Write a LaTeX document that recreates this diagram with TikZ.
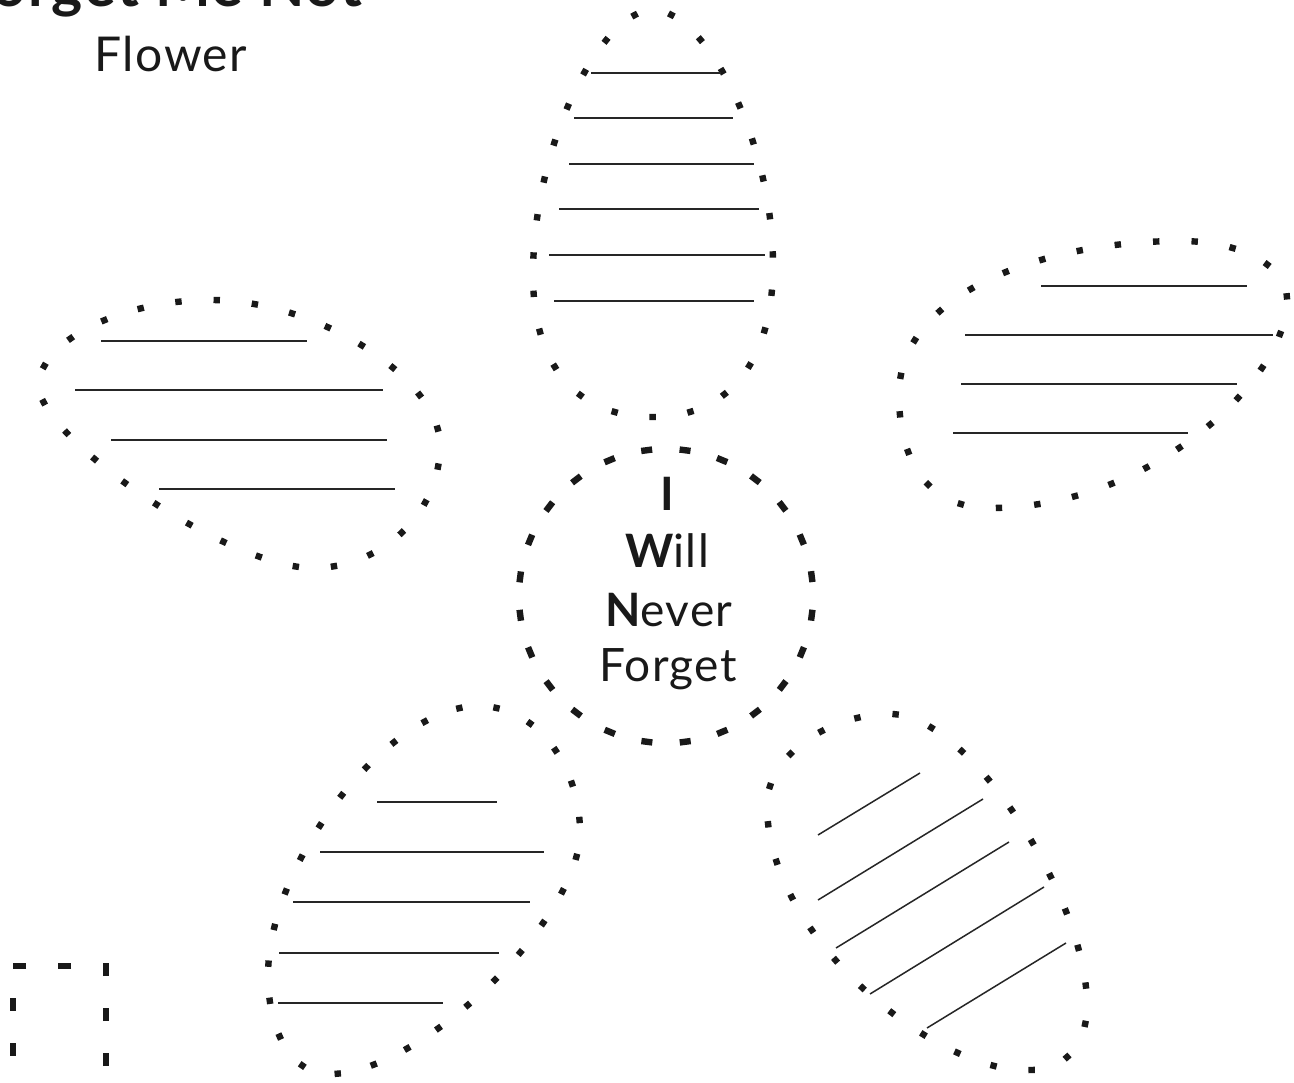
\documentclass[tikz,border=0pt]{standalone}
\usepackage{fontspec}
\setmainfont{Lato}[LetterSpace=3]
\usetikzlibrary{decorations.markings}
\begin{document}
\begin{tikzpicture}[x=1pt,y=-1pt,
  petal/.style={decorate,decoration={markings,
     mark=between positions {0.5/#1} and 0.999 step {1/#1} with {\fill[black!90] (-3.2pt,-3.2pt) rectangle (3.2pt,3.2pt);}}},
  ring/.style={decorate,decoration={markings,
     mark=between positions {0.5/24} and 0.999 step {1/24} with {\fill[black!90] (-5.5pt,-3.2pt) rectangle (5.5pt,3.2pt);}}},
  boxline/.style={draw=black!90,line width=6pt,dash pattern=on 13pt off 32pt,dash phase=13pt},
  rule/.style={draw=black!85,line width=1.5pt},
  big/.style={font=\fontsize{46}{57}\selectfont,text=black!90,inner sep=0pt},
  title/.style={font=\fontsize{48}{58}\selectfont,text=black!90,inner sep=0pt}]
\useasboundingbox (0,0) rectangle (1294,1083);
\clip (0,0) rectangle (1294,1083);
\fill[white] (0,0) rectangle (1294,1083);

% title
\node[title,font=\fontsize{59}{70}\selectfont\bfseries,anchor=base east] (t1) at (363,7) {Forget Me Not};
\node[title,anchor=base] (t2) at (171,72) {Flower};

% top petal
\path[petal=27] (653,10) .. controls (705,10) and (773,140) .. (773,265)
  .. controls (773,360) and (730,417) .. (653,417)
  .. controls (576,417) and (533,365) .. (533,275)
  .. controls (533,145) and (601,10) .. (653,10);
\draw[rule] (591,73) -- (721,73);
\draw[rule] (574,118) -- (733,118);
\draw[rule] (569,164) -- (754,164);
\draw[rule] (559,209) -- (759,209);
\draw[rule] (549,255) -- (765,255);
\draw[rule] (554,301) -- (754,301);

% right petal
\path[petal=27] (899,395) .. controls (899,290) and (1050,241) .. (1180,241)
  .. controls (1240,241) and (1287,265) .. (1287,300)
  .. controls (1287,380) and (1150,508) .. (990,508)
  .. controls (920,508) and (899,450) .. (899,395);
\draw[rule] (1041,286) -- (1247,286);
\draw[rule] (965,335) -- (1273,335);
\draw[rule] (961,384) -- (1237,384);
\draw[rule] (953,433) -- (1188,433);

% left petal
\path[petal=27] (38,384) .. controls (45,335) and (130,300) .. (210,300)
  .. controls (320,300) and (440,380) .. (440,445)
  .. controls (440,515) and (380,568) .. (313,568)
  .. controls (230,568) and (40,440) .. (38,384);
\draw[rule] (101,341) -- (307,341);
\draw[rule] (75,390) -- (383,390);
\draw[rule] (111,440) -- (387,440);
\draw[rule] (159,489) -- (395,489);

% bottom-left petal
\path[petal=28] (478,706) .. controls (540,706) and (580,770) .. (580,832)
  .. controls (580,920) and (420,1074) .. (330,1074)
  .. controls (285,1074) and (268,1020) .. (268,976)
  .. controls (268,860) and (390,706) .. (478,706);
\draw[rule] (377,802) -- (497,802);
\draw[rule] (320,852) -- (544,852);
\draw[rule] (293,902) -- (530,902);
\draw[rule] (279,953) -- (499,953);
\draw[rule] (278,1003) -- (443,1003);

% bottom-right petal
\path[petal=27] (767,805) .. controls (767,755) and (830,714) .. (890,714)
  .. controls (970,714) and (1087,900) .. (1087,1005)
  .. controls (1087,1045) and (1065,1070) .. (1030,1070)
  .. controls (940,1075) and (767,940) .. (767,805);
\draw[rule] (818,835) -- (920,773);
\draw[rule] (818,900) -- (983,799);
\draw[rule] (836,948) -- (1009,842);
\draw[rule] (870,994) -- (1044,887);
\draw[rule] (927,1028) -- (1066,943);

% centre
\node[draw=none,circle,minimum size=294pt,inner sep=0pt] (c) at (666,596) {};
\path[ring] (c.center) circle[radius=147];
\node[big,font=\fontsize{46}{57}\selectfont\bfseries,anchor=base] (w1) at (667,510) {I};
\node[big,anchor=base] (w2) at (667,567) {{\bfseries W}ill};
\node[big,anchor=base] (w3) at (669,626) {{\bfseries N}ever};
\node[big,anchor=base] (w4) at (668,681) {Forget};

% partial box bottom-left
\coordinate (b1) at (106,1098);
\coordinate (b2) at (106,966);
\coordinate (b3) at (13,966);
\coordinate (b4) at (13,1098);
\draw[boxline] (b1) -- (b2) -- (b3) -- (b4);
\end{tikzpicture}
\end{document}
